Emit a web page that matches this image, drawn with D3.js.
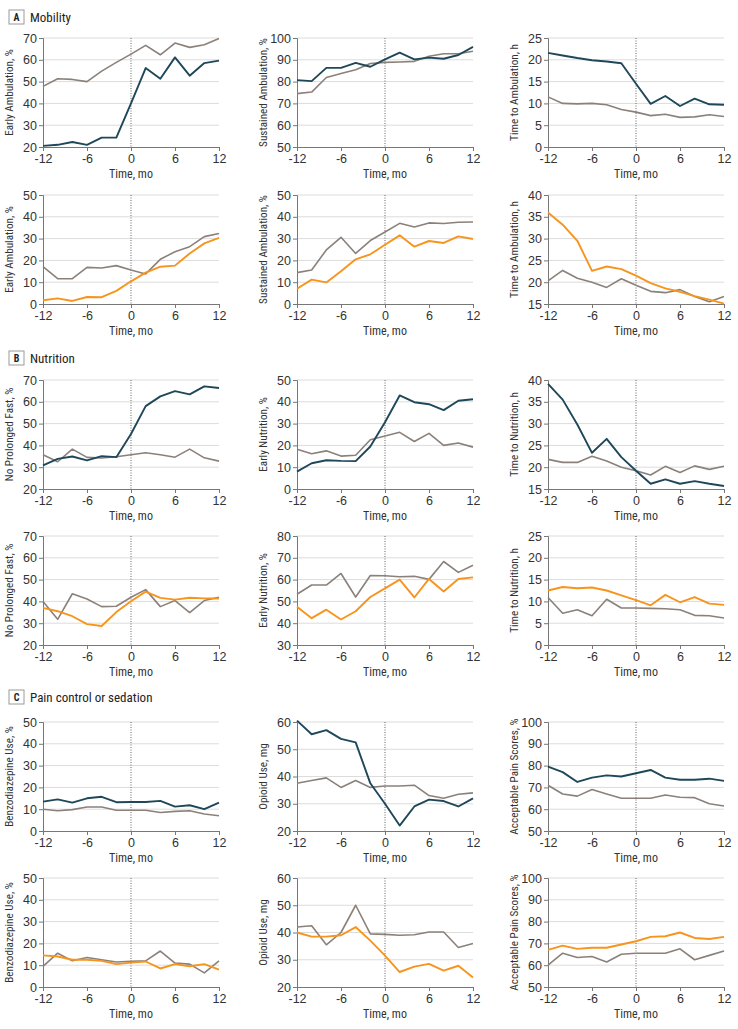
<!DOCTYPE html>
<html><head><meta charset="utf-8">
<script src="https://cdn.jsdelivr.net/npm/d3@7"></script>
<style>
body{margin:0;background:#fff;}
text{font-family:"Liberation Sans Narrow","Arial Narrow","Roboto Condensed","Liberation Sans",sans-serif;}
</style></head><body>
<svg id="c" width="738" height="1029"></svg>
<script>
const months = [-12,-10,-8,-6,-4,-2,0,2,4,6,8,10,12];
const xTicks = [-12,-6,0,6,12];

// A. Mobility
const earlyAmbDark = [20.5,21,22.3,21,24.3,24.3,40,56.2,51.3,61.1,52.7,58.5,59.6];
const earlyAmbGray1 = [47.8,51.3,51,50,54.8,58.8,62.6,66.6,62.3,67.7,65.7,66.9,69.8];
const sustAmbDark = [80.7,80.2,86.3,86.3,88.6,86.8,90.2,93.3,90.2,91,90.5,92.2,95.9];
const sustAmbGray1 = [74.5,75.2,81.9,83.7,85.4,88.3,88.8,89,89.3,91.6,92.8,92.8,93.9];
const timeAmbDark = [21.6,21,20.4,19.9,19.6,19.2,14.5,9.9,11.7,9.4,11.1,9.8,9.7];
const timeAmbGray1 = [11.5,10,9.9,10,9.7,8.6,8,7.2,7.5,6.8,6.9,7.4,7];
const earlyAmbGray2 = [17.1,11.6,11.6,16.8,16.5,17.6,15.6,13.8,20.5,24,26.3,30.9,32.3];
const earlyAmbOrange = [1.7,2.6,1.4,3.2,3.1,6,10.4,14.4,17.1,17.6,23.2,27.8,30.3];
const sustAmbGray2 = [14.4,15.6,24.8,30.6,23.2,29.1,33,37,35.3,37.2,36.9,37.5,37.6];
const sustAmbOrange = [7,11.2,9.9,15,20.5,22.8,27.2,31.5,26.3,28.9,28,31,29.8];
const timeAmbGray2 = [20.3,22.7,20.9,20,18.8,20.8,19.3,17.9,17.6,18.3,16.7,15.5,16.7];
const timeAmbOrange = [36,33.2,29.5,22.6,23.6,23,21.5,19.8,18.6,17.8,16.8,16,15.1];

// B. Nutrition
const noFastDark = [30.8,33.8,34.9,33.1,35.1,34.6,45.2,58,62.5,64.9,63.4,67.1,66.3];
const noFastGray1 = [35.7,32.5,38.3,34.5,34.2,34.8,35.7,36.6,35.7,34.6,38.3,34.3,32.8];
const earlyNutDark = [8,11.8,13.2,12.9,12.8,19.5,30.6,42.9,39.8,38.9,36.2,40.5,41.2];
const earlyNutGray1 = [18.2,16.2,17.5,15.1,15.5,22.6,24.3,26,21.8,25.5,20,21.1,19.2];
const timeNutDark = [39.1,35.5,29.8,23.3,26.5,22.3,19.2,16.2,17.2,16.2,16.8,16.2,15.7];
const timeNutGray1 = [21.8,21.1,21.1,22.5,21.4,20,19.2,18.2,20.2,18.8,20.3,19.5,20.2];
const noFastGray2 = [40,31.8,43.5,41.1,37.6,37.8,41.9,45.4,37.6,40.4,34.9,40.4,41.9];
const noFastOrange = [37,35.5,33.2,29.6,28.7,35.1,40.1,44.5,41.6,40.8,41.7,41.4,41.3];
const earlyNutGray2 = [53.3,57.5,57.5,62.8,52,61.9,61.8,61.3,61.5,60.1,68.3,63.3,66.6];
const earlyNutOrange = [47.5,42.3,46.2,41.7,45.5,52,56,60,51.8,60.3,54.5,60.3,61];
const timeNutGray2 = [10.9,7.3,8.1,6.7,10.5,8.5,8.5,8.4,8.3,8.1,6.8,6.7,6.2];
const timeNutOrange = [12.5,13.3,13,13.2,12.5,11.4,10.3,9.1,11.5,9.8,11,9.5,9.2];

// C. Pain control or sedation
const benzoDark = [13.5,14.5,13,15,15.7,13.2,13.3,13.3,13.8,11.2,11.8,10,13];
const benzoGray1 = [10,9.3,9.8,11,11,9.5,9.5,9.5,8.5,9,9.3,7.8,7];
const opioidDark = [60.5,55.5,57,53.8,52.5,37.5,30,22,29,31.5,31,29,32];
const opioidGray1 = [37.5,38.5,39.5,36,38.5,36,36.5,36.5,36.8,33,32,33.5,34];
const painDark = [79.5,77,72.5,74.5,75.5,75,76.5,78,74.5,73.5,73.5,74,73];
const painGray1 = [71,67,66,69,67,65,65,65,66.5,65.5,65.3,62.5,61.5];
const benzoGray2 = [9.5,15.5,12,13.5,12.5,11.5,11.8,12,16.5,11,10.5,6.5,12];
const benzoOrange = [14.5,14,12.5,12.5,12,10.5,11.2,11.7,8.5,10.5,9.5,10.5,8];
const opioidGray2 = [42,42.5,35.5,40,50,39.5,39.3,39,39.2,40.2,40.2,34.5,36];
const opioidOrange = [40,38.5,38.5,39,42,37,31.5,25.5,27.5,28.5,26,27.8,23.5];
const painGray2 = [60,65.5,63.5,64,61.5,65,65.5,65.5,65.5,67.5,62.5,64.5,66.5];
const painOrange = [67,69,67.5,68,68,69.5,71,73,73.3,75,72.5,72,73];

const sections = [
  {letter:"A", title:"Mobility", y:17},
  {letter:"B", title:"Nutrition", y:358},
  {letter:"C", title:"Pain control or sedation", y:697}
];

const COL = {dark:"#1e4859", gray:"#8b817a", orange:"#f7941d"};
const colX = [43, 297, 548];
const rowTop = [38, 195, 380, 536, 722, 878];
const W = 176, H = 109;

const panels = [
  {r:0,c:0,label:"Early Ambulation, %",dom:[20,70],yt:[20,30,40,50,60,70],s:[[earlyAmbGray1,"gray"],[earlyAmbDark,"dark"]]},
  {r:0,c:1,label:"Sustained Ambulation, %",dom:[50,100],yt:[50,60,70,80,90,100],s:[[sustAmbGray1,"gray"],[sustAmbDark,"dark"]]},
  {r:0,c:2,label:"Time to Ambulation, h",dom:[0,25],yt:[0,5,10,15,20,25],s:[[timeAmbGray1,"gray"],[timeAmbDark,"dark"]]},
  {r:1,c:0,label:"Early Ambulation, %",dom:[0,50],yt:[0,10,20,30,40,50],s:[[earlyAmbGray2,"gray"],[earlyAmbOrange,"orange"]]},
  {r:1,c:1,label:"Sustained Ambulation, %",dom:[0,50],yt:[0,10,20,30,40,50],s:[[sustAmbGray2,"gray"],[sustAmbOrange,"orange"]]},
  {r:1,c:2,label:"Time to Ambulation, h",dom:[15,40],yt:[15,20,25,30,35,40],s:[[timeAmbGray2,"gray"],[timeAmbOrange,"orange"]]},
  {r:2,c:0,label:"No Prolonged Fast, %",dom:[20,70],yt:[20,30,40,50,60,70],s:[[noFastGray1,"gray"],[noFastDark,"dark"]]},
  {r:2,c:1,label:"Early Nutrition, %",dom:[0,50],yt:[0,10,20,30,40,50],s:[[earlyNutGray1,"gray"],[earlyNutDark,"dark"]]},
  {r:2,c:2,label:"Time to Nutrition, h",dom:[15,40],yt:[15,20,25,30,35,40],s:[[timeNutGray1,"gray"],[timeNutDark,"dark"]]},
  {r:3,c:0,label:"No Prolonged Fast, %",dom:[20,70],yt:[20,30,40,50,60,70],s:[[noFastGray2,"gray"],[noFastOrange,"orange"]]},
  {r:3,c:1,label:"Early Nutrition, %",dom:[30,80],yt:[30,40,50,60,70,80],s:[[earlyNutGray2,"gray"],[earlyNutOrange,"orange"]]},
  {r:3,c:2,label:"Time to Nutrition, h",dom:[0,25],yt:[0,5,10,15,20,25],s:[[timeNutGray2,"gray"],[timeNutOrange,"orange"]]},
  {r:4,c:0,label:"Benzodiazepine Use, %",dom:[0,50],yt:[0,10,20,30,40,50],s:[[benzoGray1,"gray"],[benzoDark,"dark"]]},
  {r:4,c:1,label:"Opioid Use, mg",dom:[20,60],yt:[20,30,40,50,60],s:[[opioidGray1,"gray"],[opioidDark,"dark"]]},
  {r:4,c:2,label:"Acceptable Pain Scores, %",dom:[50,100],yt:[50,60,70,80,90,100],s:[[painGray1,"gray"],[painDark,"dark"]]},
  {r:5,c:0,label:"Benzodiazepine Use, %",dom:[0,50],yt:[0,10,20,30,40,50],s:[[benzoGray2,"gray"],[benzoOrange,"orange"]]},
  {r:5,c:1,label:"Opioid Use, mg",dom:[20,60],yt:[20,30,40,50,60],s:[[opioidGray2,"gray"],[opioidOrange,"orange"]]},
  {r:5,c:2,label:"Acceptable Pain Scores, %",dom:[50,100],yt:[50,60,70,80,90,100],s:[[painGray2,"gray"],[painOrange,"orange"]]}
];

const svg = d3.select("#c");

sections.forEach(s => {
  const g = svg.append("g").attr("transform",`translate(9,${s.y})`);
  g.append("rect").attr("x",0).attr("y",-7).attr("width",15).attr("height",14)
    .attr("fill","#fff").attr("stroke","#9a9a9a").attr("stroke-width",1);
  g.append("text").attr("x",7.5).attr("y",4).attr("text-anchor","middle")
    .attr("font-size",10).attr("font-weight","bold").attr("fill","#222").text(s.letter);
  g.append("text").attr("x",21).attr("y",4.5).attr("font-size",13).attr("fill","#222").text(s.title);
});

panels.forEach(p => {
  const x0 = colX[p.c], y0 = rowTop[p.r];
  const g = svg.append("g").attr("transform",`translate(${x0},${y0})`);
  const x = d3.scaleLinear().domain([-12,12]).range([0,W]);
  const y = d3.scaleLinear().domain(p.dom).range([H,0]);
  g.append("g").selectAll("line").data(p.yt.slice(1)).join("line")
    .attr("x1",0).attr("x2",W).attr("y1",d=>y(d)).attr("y2",d=>y(d))
    .attr("stroke","#dcdcdc").attr("stroke-width",1);
  g.append("line").attr("x1",x(0)).attr("x2",x(0)).attr("y1",0).attr("y2",H)
    .attr("stroke","#666").attr("stroke-width",1).attr("stroke-dasharray","1,1.5");
  const ya = g.append("g").call(d3.axisLeft(y).tickValues(p.yt).tickSize(4).tickPadding(2).tickFormat(d3.format("d")));
  const xa = g.append("g").attr("transform",`translate(0,${H})`)
    .call(d3.axisBottom(x).tickValues(xTicks).tickSize(4).tickPadding(3).tickFormat(d=>d<0?"-"+Math.abs(d):d));
  [ya,xa].forEach(a=>{
    a.select(".domain").attr("stroke","#777");
    a.selectAll(".tick line").attr("stroke","#777");
    a.selectAll("text").attr("font-size",12.5).attr("fill","#333")
      .style("font-family",'"Liberation Sans Narrow","Arial Narrow","Liberation Sans",sans-serif');
  });
  g.append("text").attr("transform",`translate(-30,${H/2}) rotate(-90)`)
    .attr("text-anchor","middle").attr("font-size",11.2).attr("fill","#333").text(p.label);
  g.append("text").attr("x",W/2).attr("y",H+31).attr("text-anchor","middle")
    .attr("font-size",12).attr("fill","#333").text("Time, mo");
  const line = d3.line().x((d,i)=>x(months[i])).y(d=>y(d));
  p.s.forEach(([vals,c])=>{
    g.append("path").datum(vals).attr("d",line).attr("fill","none")
      .attr("stroke",COL[c]).attr("stroke-width",c==="gray"?1.6:1.9)
      .attr("stroke-linejoin","round");
  });
});
</script></body></html>
